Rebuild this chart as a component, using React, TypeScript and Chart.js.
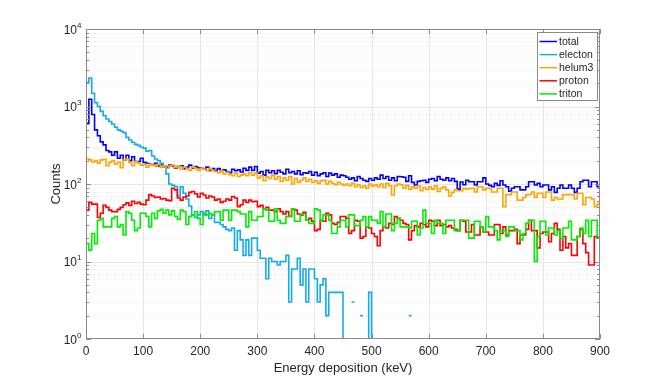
import React, { useEffect, useRef } from "react";
import { Chart, registerables } from "chart.js";

Chart.register(...registerables);

// ---------- data ----------
const BIN_WIDTH = 5; // keV per histogram bin
const X_MIN = 0;
const X_MAX = 900;
const X_TICKS = [0, 100, 200, 300, 400, 500, 600, 700, 800, 900];
const Y_DECADES = [0, 1, 2, 3, 4]; // 10^0 .. 10^4
const X_LABEL = "Energy deposition (keV)";
const Y_LABEL = "Counts";
const SERIES_NAMES = ["total", "electon", "helum3", "proton", "triton"];
const SERIES_COLORS = ["#0000ff", "#14aaf0", "#ffa500", "#ff0000", "#00ee00"];

const total = [
  605, 1240, 790, 500, 420, 350, 320, 270, 260, 235,
  260, 215, 235, 205, 235, 200, 225, 195, 195, 215,
  190, 185, 180, 175, 185, 170, 178, 172, 165, 175,
  170, 160, 168, 172, 158, 165, 175, 160, 168, 162,
  160, 155, 165, 150, 158, 150, 158, 148, 152, 145,
  140, 155, 148, 152, 143, 160, 150, 165, 150, 168,
  138, 145, 130, 150, 140, 148, 136, 150, 142, 135,
  155, 140, 145, 135, 148, 132, 140, 138, 145, 130,
  142, 128, 135, 140, 125, 138, 130, 135, 122, 130,
  128, 122, 115, 120, 110, 125, 118, 112, 108, 118,
  112, 120, 115, 130, 118, 125, 112, 120, 110, 125,
  124, 122, 108, 128, 105, 97, 108, 110, 112, 105,
  115, 118, 110, 125, 115, 112, 120, 110, 118, 108,
  86, 106, 98, 112, 107, 107, 97, 107, 107, 120,
  100, 96, 92, 102, 96, 110, 97, 92, 81, 88,
  92, 92, 84, 84, 92, 107, 107, 97, 102, 92,
  97, 97, 84, 92, 78, 88, 97, 88, 88, 97,
  88, 78, 88, 107, 112, 112, 92, 107, 107, 92,
];

const electon: (number | null)[] = [
  2040, 2330, 1480, 1120, 1000, 865, 760, 690, 640, 595,
  540, 500, 480, 460, 400, 370, 345, 325, 315, 300,
  290, 265, 270, 230, 210, 200, 185, 165, 135, 100,
  96, 93, 70, 92, 76, 64, 52, 40, 37, 40,
  44, 40, 45, 36, 40, 32, 32, 30, 28, 26,
  25, 27, 14, 25, 19, 12, 19, 12, 20, 20,
  14, 11, 11, 6, 11, 10, 10, 9, 10, 10,
  12, 3, 8, 8, 11, 5, 8, 3, 8, 8,
  6, 3, 5, 6, 2, 4, 4, 4, 4, 4,
  1, 1, null, 3, null, null, 2, null, 1, 4,
  1, null, null, null, null, null, 1, null, null, null,
  1, null, null, 2, null, null, null, null, null, null,
  null, null, null, null, null, null, null, null, null, null,
  null, null, null, null, null, null, null, null, null, null,
  null, null, null, null, null, null, null, null, null, null,
  null, null, null, null, null, null, null, null, null, null,
  null, null, null, null, null, null, null, null, null, null,
  null, null, null, null, null, null, null, null, null, null,
];

const helum3 = [
  212, 205, 192, 200, 185, 205, 208, 172, 190, 200,
  180, 192, 162, 205, 210, 190, 172, 195, 185, 175,
  180, 165, 180, 175, 170, 180, 165, 172, 160, 170,
  175, 162, 170, 155, 165, 160, 150, 165, 158, 150,
  160, 155, 148, 158, 150, 145, 140, 148, 135, 142,
  132, 128, 138, 125, 130, 135, 128, 140, 130, 138,
  120, 128, 110, 125, 118, 130, 115, 125, 108, 120,
  112, 125, 100, 118, 105, 112, 120, 108, 115, 105,
  110, 102, 110, 112, 100, 108, 102, 98, 105, 100,
  96, 100, 95, 102, 92, 98, 90, 95, 88, 100,
  94, 98, 92, 100, 90, 102, 95, 72, 95, 100,
  98, 88, 96, 85, 92, 88, 95, 82, 90, 85,
  92, 86, 95, 80, 88, 92, 84, 70, 78, 84,
  82, 82, 88, 86, 88, 88, 79, 92, 92, 84,
  88, 88, 79, 79, 88, 88, 51, 73, 73, 79,
  79, 62, 62, 67, 73, 73, 79, 67, 76, 76,
  67, 79, 79, 62, 67, 64, 64, 73, 73, 73,
  73, 64, 76, 76, 54, 67, 67, 64, 51, 55,
];

const proton = [
  46, 58, 55, 55, 37, 42, 53, 50, 46, 44,
  44, 47, 50, 54, 57, 53, 60, 56, 58, 55,
  54, 62, 73, 70, 67, 68, 64, 65, 62, 61,
  88, 84, 66, 62, 68, 70, 78, 80, 75, 68,
  76, 72, 66, 70, 68, 62, 64, 58, 60, 64,
  62, 69, 66, 51, 54, 62, 58, 62, 59, 60,
  51, 53, 48, 50, 46, 46, 44, 48, 44, 41,
  44, 38, 48, 46, 41, 40, 43, 34, 36, 33,
  25, 26, 34, 33, 42, 40, 31, 30, 32, 38,
  38, 36, 23, 25, 34, 33, 20, 21, 28, 27,
  23, 21, 16, 25, 28, 27, 31, 30, 38, 36,
  34, 31, 30, 19, 25, 29, 28, 31, 30, 28,
  34, 33, 29, 34, 29, 30, 28, 29, 27, 26,
  25, 34, 33, 24, 24, 30, 22, 22, 28, 24,
  24, 22, 22, 30, 30, 23, 28, 22, 25, 25,
  26, 17, 22, 22, 26, 34, 25, 25, 15, 23,
  24, 24, 18, 23, 31, 26, 14, 21, 15, 17,
  12, 12, 21, 26, 17, 13, 9, 9, 21, 20,
];

const triton = [
  17, 14, 23, 17, 34, 36, 28, 28, 28, 36,
  38, 28, 30, 22, 44, 42, 34, 25, 27, 42,
  42, 38, 28, 42, 36, 45, 47, 42, 46, 40,
  45, 38, 35, 46, 44, 30, 38, 40, 44, 36,
  30, 42, 40, 42, 40, 44, 44, 34, 46, 46,
  34, 46, 46, 44, 41, 41, 28, 44, 34, 34,
  38, 38, 48, 46, 33, 33, 48, 34, 31, 31,
  38, 38, 48, 33, 33, 41, 41, 34, 31, 31,
  48, 46, 33, 40, 40, 34, 23, 23, 28, 34,
  34, 28, 40, 40, 29, 29, 34, 38, 28, 38,
  34, 34, 31, 44, 28, 41, 41, 25, 31, 36,
  28, 28, 28, 27, 33, 33, 22, 27, 46, 31,
  31, 23, 34, 31, 31, 23, 34, 34, 34, 25,
  25, 34, 34, 34, 20, 20, 33, 33, 28, 24,
  38, 28, 28, 25, 19, 25, 25, 21, 28, 28,
  25, 25, 19, 23, 31, 34, 34, 10, 21, 33,
  33, 22, 27, 27, 22, 25, 20, 27, 27, 33,
  19, 19, 21, 27, 23, 34, 21, 34, 34, 21,
];

const SERIES_VALUES: (number | null)[][] = [total, electon, helum3, proton, triton];

// ---------- style ----------
const FONT = '"Liberation Sans", Arial, Helvetica, sans-serif';
const TEXT_COLOR = "#262626";
const AXIS_COLOR = "#8a8a8a";
const GRID_MAJOR = "#e6e6e6";
const GRID_MINOR = "#e2e2e2";

function toStairs(values: (number | null)[]) {
  const pts: { x: number; y: number | null }[] = [];
  values.forEach((v, i) => {
    const x0 = i * BIN_WIDTH;
    pts.push({ x: x0, y: v });
    pts.push({ x: x0 + BIN_WIDTH, y: v });
  });
  return pts;
}

const matlabAxes = {
  id: "matlabAxes",
  beforeDatasetsDraw(chart: any) {
    const { ctx, chartArea, scales } = chart;
    const { left, right, top, bottom } = chartArea;
    const xs = scales.x;
    const ys = scales.y;
    ctx.save();
    ctx.lineWidth = 1;
    // vertical major grid
    ctx.strokeStyle = GRID_MAJOR;
    for (const t of X_TICKS) {
      if (t === X_MIN || t === X_MAX) continue;
      const px = Math.round(xs.getPixelForValue(t)) + 0.5;
      ctx.beginPath();
      ctx.moveTo(px, top);
      ctx.lineTo(px, bottom);
      ctx.stroke();
    }
    // minor dotted horizontal grid
    ctx.strokeStyle = GRID_MINOR;
    ctx.setLineDash([1, 3]);
    for (let d = Y_DECADES[0]; d < Y_DECADES[Y_DECADES.length - 1]; d++) {
      for (let m = 2; m <= 9; m++) {
        const py = Math.round(ys.getPixelForValue(m * Math.pow(10, d))) + 0.5;
        ctx.beginPath();
        ctx.moveTo(left, py);
        ctx.lineTo(right, py);
        ctx.stroke();
      }
    }
    ctx.setLineDash([]);
    ctx.strokeStyle = GRID_MAJOR;
    for (const d of Y_DECADES) {
      if (d === Y_DECADES[0] || d === Y_DECADES[Y_DECADES.length - 1]) continue;
      const py = Math.round(ys.getPixelForValue(Math.pow(10, d))) + 0.5;
      ctx.beginPath();
      ctx.moveTo(left, py);
      ctx.lineTo(right, py);
      ctx.stroke();
    }
    ctx.restore();
  },
  afterDatasetsDraw(chart: any) {
    const { ctx, chartArea, scales } = chart;
    const { left, right, top, bottom } = chartArea;
    const xs = scales.x;
    const ys = scales.y;
    ctx.save();
    // box
    ctx.strokeStyle = AXIS_COLOR;
    ctx.lineWidth = 1;
    ctx.strokeRect(left + 0.5, top + 0.5, right - left - 1, bottom - top - 1);
    // x ticks
    ctx.beginPath();
    for (const t of X_TICKS) {
      const px = Math.round(xs.getPixelForValue(t)) + 0.5;
      ctx.moveTo(px, bottom);
      ctx.lineTo(px, bottom - 5);
      ctx.moveTo(px, top);
      ctx.lineTo(px, top + 5);
    }
    // y ticks
    for (let d = Y_DECADES[0]; d <= Y_DECADES[Y_DECADES.length - 1]; d++) {
      const py = Math.round(ys.getPixelForValue(Math.pow(10, d))) + 0.5;
      ctx.moveTo(left, py);
      ctx.lineTo(left + 5, py);
      ctx.moveTo(right, py);
      ctx.lineTo(right - 5, py);
      if (d < Y_DECADES[Y_DECADES.length - 1]) {
        for (let m = 2; m <= 9; m++) {
          const pm = Math.round(ys.getPixelForValue(m * Math.pow(10, d))) + 0.5;
          ctx.moveTo(left, pm);
          ctx.lineTo(left + 3, pm);
          ctx.moveTo(right, pm);
          ctx.lineTo(right - 3, pm);
        }
      }
    }
    ctx.stroke();

    // tick labels
    ctx.fillStyle = TEXT_COLOR;
    ctx.font = `12px ${FONT}`;
    ctx.textAlign = "center";
    ctx.textBaseline = "middle";
    for (const t of X_TICKS) {
      ctx.fillText(String(t), xs.getPixelForValue(t), bottom + 13);
    }
    for (const d of Y_DECADES) {
      const py = ys.getPixelForValue(Math.pow(10, d));
      ctx.font = `12px ${FONT}`;
      ctx.textAlign = "right";
      ctx.fillText("10", left - 9, py + 1.5);
      ctx.font = `8px ${FONT}`;
      ctx.textAlign = "left";
      ctx.fillText(String(d), left - 9, py - 3.5);
    }

    // axis labels
    ctx.font = `13px ${FONT}`;
    ctx.textAlign = "center";
    ctx.textBaseline = "middle";
    ctx.fillText(X_LABEL, (left + right) / 2, bottom + 29);
    ctx.save();
    ctx.translate(left - 30, (top + bottom) / 2);
    ctx.rotate(-Math.PI / 2);
    ctx.fillText(Y_LABEL, 0, 0);
    ctx.restore();

    // legend
    const lx = 537.5;
    const ly = 32.5;
    const lw = 60;
    const lh = 68;
    ctx.fillStyle = "#ffffff";
    ctx.fillRect(lx, ly, lw, lh);
    ctx.strokeStyle = AXIS_COLOR;
    ctx.lineWidth = 1;
    ctx.strokeRect(lx, ly, lw, lh);
    ctx.font = `10.5px ${FONT}`;
    ctx.textAlign = "left";
    ctx.textBaseline = "middle";
    SERIES_NAMES.forEach((name, k) => {
      const yy = 41.5 + k * 13.1;
      ctx.strokeStyle = SERIES_COLORS[k];
      ctx.lineWidth = 1.5;
      ctx.beginPath();
      ctx.moveTo(539.5, yy);
      ctx.lineTo(557, yy);
      ctx.stroke();
      ctx.fillStyle = TEXT_COLOR;
      ctx.fillText(name, 559, yy + 0.5);
    });
    ctx.restore();
  },
};

export default function App() {
  const canvasRef = useRef<HTMLCanvasElement | null>(null);

  useEffect(() => {
    const canvas = canvasRef.current;
    if (!canvas) return;
    const datasets = SERIES_NAMES.map((name, k) => ({
      label: name,
      data: toStairs(SERIES_VALUES[k]),
      borderColor: SERIES_COLORS[k],
      backgroundColor: SERIES_COLORS[k],
      borderWidth: 1.6,
      pointRadius: 0,
      pointHoverRadius: 0,
      tension: 0,
      fill: false,
      spanGaps: false,
      clip: 0,
      order: SERIES_NAMES.length - k,
    }));
    const chart = new Chart(canvas, {
      type: "line",
      data: { datasets },
      options: {
        animation: false,
        responsive: false,
        devicePixelRatio: 1,
        events: [],
        layout: { padding: { left: 86, top: 29, right: 64, bottom: 43 } },
        plugins: { legend: { display: false }, tooltip: { enabled: false } },
        scales: {
          x: { type: "linear", min: X_MIN, max: X_MAX, display: false },
          y: { type: "logarithmic", min: Math.pow(10, Y_DECADES[0]), max: Math.pow(10, Y_DECADES[Y_DECADES.length - 1]), display: false },
        },
      },
      plugins: [matlabAxes],
    } as any);
    return () => chart.destroy();
  }, []);

  return (
    <div style={{ position: "absolute", left: 0, top: 0, width: 664, height: 382, background: "#ffffff" }}>
      <canvas ref={canvasRef} width={664} height={382} style={{ display: "block" }} />
    </div>
  );
}
